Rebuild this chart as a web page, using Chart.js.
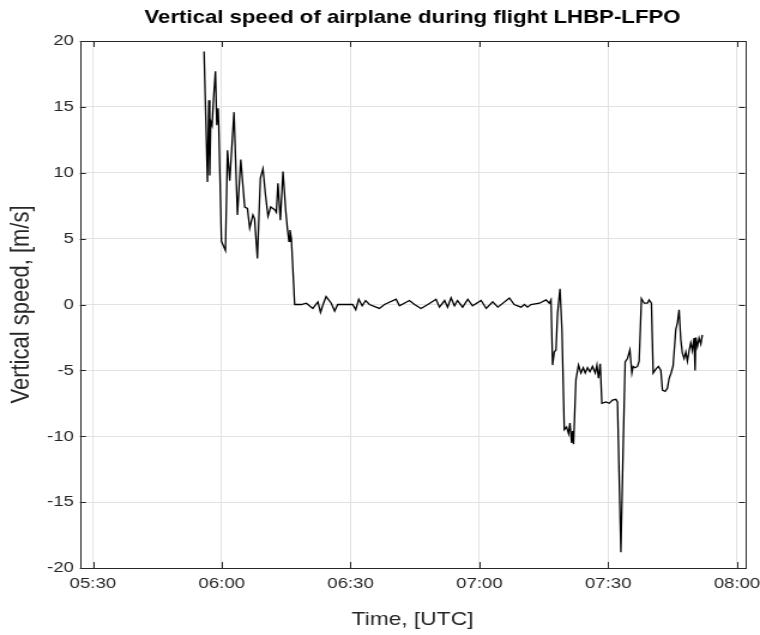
<!DOCTYPE html>
<html>
<head>
<meta charset="utf-8">
<script src="https://cdn.jsdelivr.net/npm/chart.js@4/dist/chart.umd.min.js"></script>
<style>
  html, body { margin: 0; padding: 0; background: #fff; overflow: hidden; }
  /* figure is drawn narrow and stretched sideways, like the exported plot */
  #wrap { width: 634px; height: 635px; transform: scaleX(1.1987); transform-origin: 0 0; }
</style>
</head>
<body>
<div id="wrap"><canvas id="vs"></canvas></div>
<script>
// time in minutes after 00:00 UTC, vertical speed in m/s
const times = [
  355.88, 356.67, 356.98, 357.21, 357.44, 357.74, 358.14, 358.53, 358.84, 359.14,
  359.30, 359.93, 360.86, 361.33, 361.86, 362.86, 363.65, 364.42, 365.35, 365.98,
  366.51, 367.25, 367.65, 368.30, 369.00, 369.60, 370.16, 370.77, 371.40, 372.33,
  372.72, 373.09, 373.65, 374.26, 374.88, 375.28, 375.65, 375.88, 376.21, 376.98,
  378.50, 379.70, 381.20, 382.40, 383.00, 383.60, 384.30, 385.50, 386.30, 387.00,
  390.50, 391.20, 391.90, 392.70, 393.50, 394.40, 396.70, 397.90, 400.60, 401.40,
  403.70, 404.90, 406.40, 408.00, 409.90, 410.70, 411.90, 412.60, 413.40, 414.20,
  414.90, 416.10, 417.30, 418.40, 420.40, 421.60, 423.10, 424.30, 427.00, 428.10,
  429.70, 430.50, 431.20, 432.00, 434.00, 435.51, 436.28, 436.67, 437.05, 437.44,
  437.84, 438.21, 438.77, 439.23, 439.77, 440.30, 440.77, 441.09, 441.47, 441.70,
  441.93, 442.49, 443.09, 443.65, 444.19, 444.65, 445.19, 445.74, 446.35, 446.98,
  447.37, 447.74, 448.14, 448.53, 449.47, 450.23, 451.00, 451.79, 452.16, 452.95,
  453.49, 453.95, 454.49, 455.05, 455.51, 455.81, 456.28, 456.81, 457.21, 457.74,
  458.37, 459.14, 459.53, 460.07, 460.47, 461.09, 461.70, 462.26, 462.63, 463.26,
  463.79, 464.19, 464.65, 465.12, 465.74, 466.12, 466.51, 466.91, 467.28, 467.67,
  468.07, 468.44, 468.84, 469.23, 469.60, 470.00, 470.23, 470.40, 470.77, 471.16,
  471.56, 471.93
];
const speeds = [
  19.2, 9.3, 15.5, 9.8, 13.9, 13.6, 15.9, 17.7, 13.6, 14.9,
  13.6, 4.8, 4.1, 11.7, 9.4, 14.6, 6.8, 11.0, 7.4, 7.3,
  5.8, 6.8, 6.5, 3.5, 9.6, 10.3, 8.4, 6.7, 7.4, 7.2,
  7.0, 9.2, 6.4, 10.1, 7.2, 5.8, 4.8, 5.65, 5.0, 0.0,
  0.0, 0.1, -0.3, 0.2, -0.6, 0.0, 0.6, 0.1, -0.5, 0.0,
  0.0, -0.4, 0.4, -0.1, 0.3, 0.0, -0.3, 0.0, 0.4, -0.1,
  0.3, 0.0, -0.3, 0.0, 0.4, -0.2, 0.3, -0.2, 0.5, -0.1,
  0.3, -0.2, 0.4, -0.1, 0.3, -0.3, 0.2, -0.2, 0.5, 0.0,
  -0.2, 0.0, -0.2, 0.0, 0.1, 0.35, 0.1, 0.35, -4.6, -3.6,
  -3.45, -0.65, 1.2, -1.9, -9.5, -9.3, -9.8, -9.0, -10.5, -9.6,
  -10.6, -5.7, -4.6, -5.2, -4.8, -5.2, -4.8, -5.1, -4.7, -5.2,
  -4.6, -5.6, -4.5, -7.5, -7.4, -7.5, -7.25, -7.2, -7.4, -18.8,
  -10.8, -4.35, -4.1, -3.45, -5.2, -4.7, -4.8, -4.7, -4.3, 0.45,
  0.1, 0.1, 0.35, 0.1, -5.2, -4.9, -4.7, -5.0, -6.5, -6.6,
  -6.35, -5.6, -5.2, -4.65, -1.9, -1.4, -0.4, -2.7, -3.7, -4.1,
  -3.6, -4.3, -3.5, -2.9, -3.5, -2.55, -5.0, -2.5, -3.2, -2.55,
  -3.0, -2.3
];
// x ticks every half hour 05:30 .. 08:00
const timeTicks = [330, 360, 390, 420, 450, 480];
const xMin = 326.98, xMax = 481.86;
const titleText = 'Vertical speed of airplane during flight LHBP-LFPO';

const fam = '"Liberation Sans", Arial, Helvetica, sans-serif';
const txt = '#262626';

function hhmm(v) {
  const h = Math.floor(v / 60), m = Math.round(v % 60);
  return String(h).padStart(2, '0') + ':' + String(m).padStart(2, '0');
}

// title centred over the axes, box round them, short inward ticks on all sides
const boxTicks = {
  id: 'boxTicks',
  afterDatasetsDraw(chart) {
    const {ctx, chartArea: a, scales: {x, y}} = chart;
    ctx.save();
    ctx.strokeStyle = txt;
    ctx.lineWidth = 1;
    ctx.beginPath();
    x.ticks.forEach(t => {
      const px = Math.round(x.getPixelForValue(t.value)) + 0.5;
      ctx.moveTo(px, a.bottom); ctx.lineTo(px, a.bottom - 6);
      ctx.moveTo(px, a.top); ctx.lineTo(px, a.top + 6);
    });
    y.ticks.forEach(t => {
      const py = Math.round(y.getPixelForValue(t.value)) + 0.5;
      ctx.moveTo(a.left, py); ctx.lineTo(a.left + 5, py);
      ctx.moveTo(a.right, py); ctx.lineTo(a.right - 5, py);
    });
    ctx.stroke();
    ctx.strokeRect(Math.round(a.left) + 0.5, Math.round(a.top) + 0.5,
                   Math.round(a.width), Math.round(a.height));

    ctx.fillStyle = '#000';
    ctx.font = 'bold 18.5px ' + fam;
    ctx.textAlign = 'center';
    ctx.textBaseline = 'middle';
    ctx.fillText(titleText, (a.left + a.right) / 2, 18);
    ctx.restore();
  }
};

new Chart(document.getElementById('vs'), {
  type: 'line',
  data: {
    datasets: [{
      data: times.map((t, i) => ({x: t, y: speeds[i]})),
      borderColor: '#000',
      borderWidth: 1.3,
      pointRadius: 0,
      tension: 0,
      fill: false
    }]
  },
  options: {
    responsive: true,
    maintainAspectRatio: false,
    animation: false,
    layout: {padding: {left: 0, right: 12.5, top: 41, bottom: 0}},
    plugins: {
      legend: {display: false},
      tooltip: {enabled: false},
      title: {display: false}
    },
    scales: {
      x: {
        type: 'linear',
        min: xMin,
        max: xMax,
        afterBuildTicks: s => { s.ticks = timeTicks.map(v => ({value: v})); },
        afterFit: s => { s.height = 67; s.paddingLeft = 0; s.paddingRight = 0; },
        grid: {color: '#e2e2e2', drawTicks: false},
        border: {display: false},
        ticks: {
          color: txt,
          padding: 6,
          maxRotation: 0,
          font: {family: fam, size: 15.5},
          callback: v => hhmm(v)
        },
        title: {
          display: true,
          text: 'Time, [UTC]',
          color: txt,
          font: {family: fam, size: 19, lineHeight: 1.2},
          padding: {top: 0, bottom: 3.6}
        }
      },
      y: {
        min: -20,
        max: 20,
        afterFit: s => { s.width = 66.7; s.paddingTop = 0; s.paddingBottom = 0; },
        grid: {color: '#e2e2e2', drawTicks: false},
        border: {display: false},
        ticks: {
          stepSize: 5,
          color: txt,
          padding: 5,
          font: {family: fam, size: 15.5}
        },
        title: {
          display: true,
          text: 'Vertical speed, [m/s]',
          color: txt,
          font: {family: fam, size: 22, lineHeight: 1.2},
          padding: {top: 5.2, bottom: 0}
        }
      }
    }
  },
  plugins: [boxTicks]
});
</script>
</body>
</html>
